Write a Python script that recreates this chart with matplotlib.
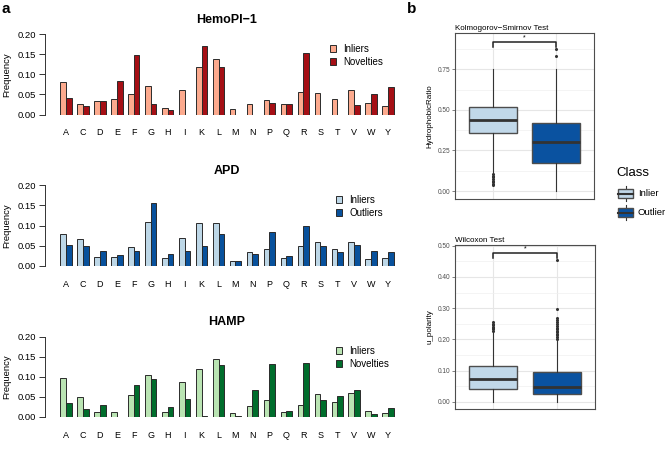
import matplotlib
matplotlib.use('Agg')
import matplotlib.pyplot as plt
import numpy as np
from matplotlib.patches import Patch, Rectangle

plt.rcParams['font.family'] = ['Liberation Sans', 'DejaVu Sans']

# ---- data: panel a (amino acid frequencies) ----
amino_acids = list('ACDEFGHIKLMNPQRSTVWY')

hemopi_inliers = [0.080, 0.027, 0.034, 0.038, 0.050, 0.071, 0.017, 0.061, 0.117, 0.139,
                  0.013, 0.027, 0.037, 0.025, 0.056, 0.053, 0.039, 0.061, 0.028, 0.022]
hemopi_novelties = [0.040, 0.021, 0.033, 0.084, 0.149, 0.027, 0.011, 0.000, 0.170, 0.117,
                    0.000, 0.000, 0.029, 0.025, 0.154, 0.000, 0.000, 0.023, 0.050, 0.069]

apd_inliers = [0.080, 0.066, 0.021, 0.022, 0.047, 0.108, 0.020, 0.070, 0.105, 0.105,
               0.012, 0.035, 0.042, 0.020, 0.050, 0.060, 0.042, 0.060, 0.016, 0.019]
apd_outliers = [0.052, 0.048, 0.037, 0.026, 0.036, 0.155, 0.030, 0.037, 0.048, 0.080,
                0.012, 0.029, 0.084, 0.024, 0.098, 0.048, 0.033, 0.051, 0.037, 0.034]

hamp_inliers = [0.096, 0.050, 0.013, 0.013, 0.055, 0.105, 0.013, 0.088, 0.120, 0.145,
                0.010, 0.026, 0.043, 0.013, 0.029, 0.056, 0.036, 0.060, 0.014, 0.009]
hamp_novelties = [0.034, 0.019, 0.029, 0.000, 0.079, 0.094, 0.025, 0.045, 0.003, 0.130,
                  0.003, 0.067, 0.133, 0.015, 0.135, 0.041, 0.052, 0.067, 0.006, 0.023]

# ---- data: panel b (box plot summaries) ----
classes = ['Inlier', 'Outlier']
hydro_q1 = [0.355, 0.172]
hydro_med = [0.435, 0.300]
hydro_q3 = [0.517, 0.419]
hydro_whislo = [0.115, 0.000]
hydro_whishi = [0.750, 0.750]
hydro_fliers = [[0.105, 0.095, 0.085, 0.075, 0.065, 0.055, 0.045, 0.035],
                [0.875, 0.834]]

pol_q1 = [0.043, 0.026]
pol_med = [0.073, 0.047]
pol_q3 = [0.115, 0.095]
pol_whislo = [0.000, 0.000]
pol_whishi = [0.225, 0.198]
pol_fliers = [[0.228, 0.232, 0.236, 0.240, 0.245, 0.250, 0.255],
              [0.203, 0.208, 0.213, 0.218, 0.223, 0.228, 0.233, 0.238, 0.243,
               0.248, 0.255, 0.262, 0.270, 0.298, 0.455]]

W, H = 668, 458
fig = plt.figure(figsize=(W / 100, H / 100), dpi=100)


def px_axes(l, t, r, b):
    return fig.add_axes([l / W, 1 - b / H, (r - l) / W, (b - t) / H])


def bar_panel(y_top, y_zero, title, title_y, v1, v2, c1, c2, lab1, lab2, leg_xy):
    # y_top: pixel row of 0.20, y_zero: pixel row of 0.00
    ax = px_axes(45, y_top, 409, y_zero)
    px_unit = 16.95
    lo = -(66 - 45) / px_unit
    ax.set_xlim(lo, lo + 364 / px_unit)
    ax.set_ylim(0, 0.2)
    x = np.arange(len(amino_acids))
    w = 1 / 3
    ax.bar(x - w / 2, v1, w, color=c1, edgecolor='#2b2b2b', linewidth=0.7)
    ax.bar(x + w / 2, v2, w, color=c2, edgecolor='#2b2b2b', linewidth=0.7)
    for s in ['top', 'right', 'bottom']:
        ax.spines[s].set_visible(False)
    ax.spines['left'].set_color('#333333')
    ax.spines['left'].set_linewidth(0.7)
    ax.patch.set_alpha(0)
    ax.set_yticks(np.arange(0, 0.201, 0.05))
    ax.set_yticklabels(['%.2f' % v for v in np.arange(0, 0.201, 0.05)])
    ax.tick_params(axis='y', length=4, width=0.7, color='#333333', pad=2.5, labelsize=6.8)
    ax.set_xticks(x)
    ax.set_xticklabels(amino_acids)
    ax.tick_params(axis='x', length=0, pad=10, labelsize=6.5)
    fig.text(227 / W, 1 - title_y / H, title, ha='center', va='center',
             fontsize=9, fontweight='bold')
    fig.text(7 / W, 1 - (y_top + y_zero) / 2 / H, 'Frequency', rotation=90,
             ha='center', va='center', fontsize=6.8)
    handles = [Patch(facecolor=c1, edgecolor='#2b2b2b', linewidth=0.7),
               Patch(facecolor=c2, edgecolor='#2b2b2b', linewidth=0.7)]
    ax.legend(handles, [lab1, lab2], loc='upper left',
              bbox_to_anchor=(leg_xy[0] / W, 1 - leg_xy[1] / H),
              bbox_transform=fig.transFigure, frameon=False, fontsize=7,
              handlelength=0.65, handleheight=0.65, handletextpad=0.7,
              labelspacing=0.3, borderpad=0, borderaxespad=0)
    return ax


bar_panel(34, 114.5, 'HemoPI−1', 20, hemopi_inliers, hemopi_novelties,
          '#fcaa8e', '#a50f15', 'Inliers', 'Novelties', (330, 44))
bar_panel(185.3, 265.7, 'APD', 171, apd_inliers, apd_outliers,
          '#bdd7e7', '#08519c', 'Inliers', 'Outliers', (336, 195))
bar_panel(336.7, 416.7, 'HAMP', 322, hamp_inliers, hamp_novelties,
          '#bae4b3', '#006d2c', 'Inliers', 'Novelties', (336, 346))

fig.text(2 / W, 1 - 9 / H, 'a', fontsize=11, fontweight='bold', va='center')
fig.text(407 / W, 1 - 9 / H, 'b', fontsize=11, fontweight='bold', va='center')

box_colors = ['#c1d8e9', '#0a52a0']


def box_panel(rect, ylim, yticks, minor, title, ylabel, q1, med, q3, wlo, whi, fl,
              bracket_y, tick_drop):
    ax = px_axes(*rect)
    stats = []
    for i in range(len(classes)):
        stats.append(dict(q1=q1[i], med=med[i], q3=q3[i], whislo=wlo[i],
                          whishi=whi[i], fliers=fl[i], label=classes[i]))
    bp = ax.bxp(stats, positions=[1, 2], widths=0.75, patch_artist=True,
                showcaps=False,
                boxprops=dict(edgecolor='#4d4d4d', linewidth=1.0),
                medianprops=dict(color='#333333', linewidth=2.0),
                whiskerprops=dict(color='#333333', linewidth=0.8),
                flierprops=dict(marker='o', markersize=1.2, markerfacecolor='#333333',
                                markeredgecolor='#333333', linestyle='none'))
    for patch, c in zip(bp['boxes'], box_colors):
        patch.set_facecolor(c)
    for el in bp['boxes'] + bp['medians'] + bp['whiskers'] + bp['fliers']:
        el.set_zorder(3)
    ax.set_xlim(0.4, 2.6)
    ax.set_ylim(*ylim)
    ax.set_yticks(yticks)
    ax.set_yticklabels(['%.2f' % v for v in yticks])
    ax.set_yticks(minor, minor=True)
    ax.set_xticks([1, 2])
    ax.set_xticklabels([])
    ax.tick_params(axis='x', length=0)
    ax.tick_params(axis='y', which='major', length=2, width=0.5, color='#4d4d4d',
                   labelsize=4.7, labelcolor='#4d4d4d', pad=1.5)
    ax.tick_params(axis='y', which='minor', length=0)
    ax.grid(True, which='major', color='#e6e6e6', linewidth=0.8)
    ax.grid(True, which='minor', axis='y', color='#f0f0f0', linewidth=0.5)
    ax.set_axisbelow(True)
    for s in ax.spines.values():
        s.set_color('#4d4d4d')
        s.set_linewidth(0.8)
    ax.set_title(title, loc='left', fontsize=5.8, pad=2)
    ax.set_ylabel(ylabel, fontsize=5.8, labelpad=3)
    # significance bracket
    ax.plot([1, 1, 2, 2], [bracket_y - tick_drop, bracket_y, bracket_y, bracket_y - tick_drop],
            color='#222222', linewidth=1.1, zorder=4)
    ax.text(1.5, bracket_y, '*', ha='center', va='bottom', fontsize=5)
    return ax


box_panel((455, 33, 594, 199), (-0.049, 0.974), [0.0, 0.25, 0.5, 0.75],
          [0.125, 0.375, 0.625, 0.875], 'Kolmogorov−Smirnov Test', 'HydrophobicRatio',
          hydro_q1, hydro_med, hydro_q3, hydro_whislo, hydro_whishi, hydro_fliers,
          0.92, 0.035)
box_panel((455, 245, 595, 409), (-0.0224, 0.502), [0.0, 0.1, 0.2, 0.3, 0.4, 0.5],
          [0.05, 0.15, 0.25, 0.35, 0.45], 'Wilcoxon Test', 'u_polarity',
          pol_q1, pol_med, pol_q3, pol_whislo, pol_whishi, pol_fliers,
          0.478, 0.018)

# Class legend with boxplot-style keys
lax = px_axes(612, 180, 640, 225)
lax.set_xlim(612, 640)
lax.set_ylim(225, 180)
lax.axis('off')
for i, (cls, c) in enumerate(zip(classes, box_colors)):
    cy = 193.5 + 19 * i
    lax.plot([625.5, 625.5], [cy - 7.5, cy + 7.5], color='#333333', linewidth=0.8)
    lax.add_patch(Rectangle((618, cy - 4.5), 15, 9, facecolor=c, edgecolor='#4d4d4d',
                            linewidth=1.0, zorder=3))
    lax.plot([618, 633], [cy, cy], color='#333333', linewidth=1.5, zorder=4)
    fig.text(638 / W, 1 - cy / H, cls, ha='left', va='center', fontsize=6.8)
fig.text(616 / W, 1 - 173 / H, 'Class', ha='left', va='center', fontsize=9.5)

fig.savefig('out.png', dpi=100)
